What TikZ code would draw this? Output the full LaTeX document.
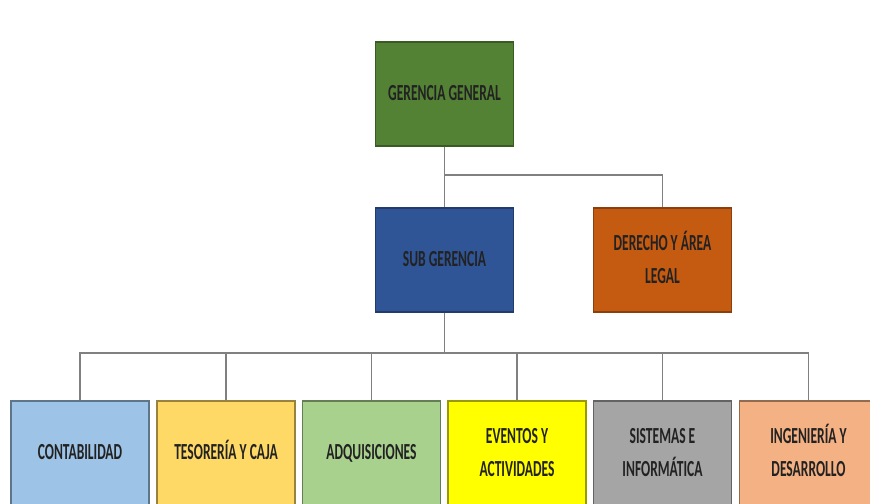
\documentclass[tikz,border=0pt]{standalone}
\usepackage{fontspec}
\setmainfont{Carlito}
\usepackage{graphicx}
\usepackage{tikz}
\definecolor{verdeGG}{HTML}{548235}
\definecolor{azulSG}{HTML}{2F5597}
\definecolor{naranjaDL}{HTML}{C55A11}
\definecolor{celeste}{HTML}{9DC3E6}
\definecolor{oro}{HTML}{FFD966}
\definecolor{verdeclaro}{HTML}{A9D18E}
\definecolor{amarillo}{HTML}{FFFF00}
\definecolor{gris}{HTML}{A5A5A5}
\definecolor{salmon}{HTML}{F4B183}
\definecolor{texto}{HTML}{222222}
\tikzstyle{caja} = [rectangle, draw=black!55, line width=0.6pt, minimum width=2.76cm, minimum height=2.08cm, inner sep=0pt, text=texto, font=\fontsize{7.7}{11}\selectfont\bfseries]
\tikzstyle{linea} = [draw=black!50, line width=0.8pt]
\newcommand{\rotulo}[1]{\scalebox{1}[1.7]{\begin{tabular}{@{}c@{}}#1\end{tabular}}}

\begin{document}
\begin{tikzpicture}[x=0.02cm, y=-0.02cm]

        \clip (0,0) rectangle (870,504);
        \fill[white] (0,0) rectangle (870,504);

        %% direccion
        \node (GG) [caja, fill=verdeGG, draw=verdeGG!70!black] at (444.5,94) {\rotulo{GERENCIA GENERAL}};
        \node (SG) [caja, fill=azulSG, draw=azulSG!70!black] at (444.5,260) {\rotulo{SUB GERENCIA}};
        \node (DL) [caja, fill=naranjaDL, draw=naranjaDL!70!black] at (662.5,260) {\rotulo{DERECHO Y ÁREA\\ LEGAL}};

        %% areas
        \node (A1) [caja, fill=celeste, draw=celeste!60!black] at (80,453) {\rotulo{CONTABILIDAD}};
        \node (A2) [caja, fill=oro, draw=oro!60!black] at (226,453) {\rotulo{TESORERÍA Y CAJA}};
        \node (A3) [caja, fill=verdeclaro, draw=verdeclaro!60!black] at (371.5,453) {\rotulo{ADQUISICIONES}};
        \node (A4) [caja, fill=amarillo, draw=amarillo!60!black] at (517,453) {\rotulo{EVENTOS Y\\ ACTIVIDADES}};
        \node (A5) [caja, fill=gris, draw=gris!60!black] at (662.5,453) {\rotulo{SISTEMAS E\\ INFORMÁTICA}};
        \node (A6) [caja, fill=salmon, draw=salmon!60!black] at (808.5,453) {\rotulo{INGENIERÍA Y\\ DESARROLLO}};

        %% relaciones
        \coordinate (R1) at (444.5,175);
        \coordinate (B1) at (444.5,353);

        \draw[linea] (GG.south) -- (SG.north);
        \draw[linea] (R1) -| (DL.north);
        \draw[linea] (SG.south) -- (B1);

        \draw[linea] (B1) -| (A1.north);
        \draw[linea] (B1) -| (A2.north);
        \draw[linea] (B1) -| (A3.north);
        \draw[linea] (B1) -| (A4.north);
        \draw[linea] (B1) -| (A5.north);
        \draw[linea] (B1) -| (A6.north);

    \end{tikzpicture}
\end{document}
